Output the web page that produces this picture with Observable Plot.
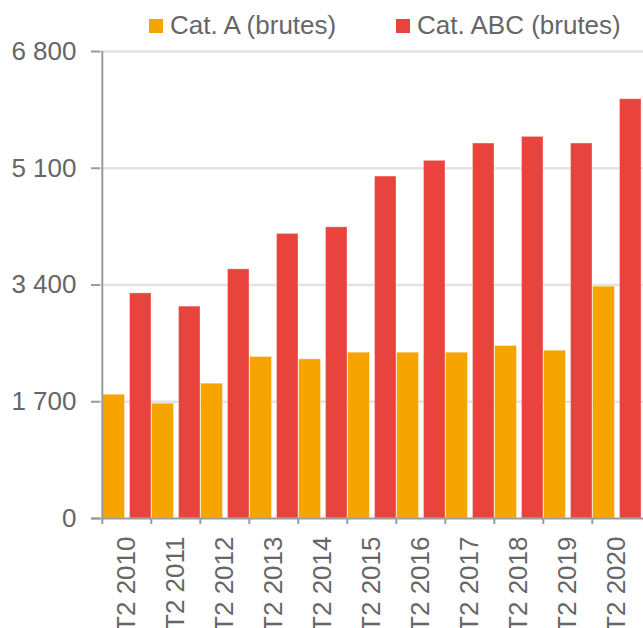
<!DOCTYPE html>
<html><head><meta charset="utf-8">
<script src="https://cdn.jsdelivr.net/npm/d3@7"></script>
<script src="https://cdn.jsdelivr.net/npm/@observablehq/plot@0.6"></script>
<style>
body{margin:0;background:#fff;font-family:"Liberation Sans",Arial,sans-serif;}
#wrap{position:relative;width:643px;height:628px;}
#legend{position:absolute;left:0;top:0;height:44px;width:643px;z-index:2;}
.sw{position:absolute;top:19px;width:14px;height:14px;}
.lb{position:absolute;top:12px;font-size:26px;line-height:26px;color:#666;white-space:nowrap;}
svg text{fill:#666;}
</style></head><body>
<div id="wrap">
<div id="legend"></div>
<div id="chart"></div>
</div>
<script>
const years = ["T2 2010","T2 2011","T2 2012","T2 2013","T2 2014","T2 2015","T2 2016","T2 2017","T2 2018","T2 2019","T2 2020"];
const catA = [1802, 1671, 1963, 2352, 2317, 2414, 2414, 2414, 2512, 2443, 3376];
const catABC = [3278, 3085, 3628, 4144, 4240, 4979, 5208, 5460, 5557, 5460, 6105];
const seriesNames = ["Cat. A (brutes)", "Cat. ABC (brutes)"];
const colors = ["#f6a500", "#e8433c"];
const yTicks = [0, 1700, 3400, 5100, 6800];

// legend
const legendPos = [[149, 170], [396, 417]];
const legend = document.getElementById("legend");
seriesNames.forEach((name, i) => {
  const sw = document.createElement("div");
  sw.className = "sw"; sw.style.left = legendPos[i][0] + "px"; sw.style.background = colors[i];
  const lb = document.createElement("div");
  lb.className = "lb"; lb.style.left = legendPos[i][1] + "px"; lb.textContent = name;
  legend.appendChild(sw); legend.appendChild(lb);
});

const W = 643, H = 628, mL = 100, mR = 0, mT = 51, mB = 110;
const step = (W - mL - mR) / years.length;
const dataA = years.map((y, i) => ({year: y, v: catA[i]}));
const dataABC = years.map((y, i) => ({year: y, v: catABC[i]}));
const fmt = d => d3.format(",")(d).replace(/,/g, " ");
const axisGray = "#9b9b9b";

const chart = Plot.plot({
  width: W, height: H,
  marginLeft: mL, marginRight: mR, marginTop: mT, marginBottom: mB,
  style: {fontSize: "26px", fontFamily: "'Liberation Sans', Arial, sans-serif", color: "#666", background: "#fff"},
  x: {domain: years, padding: 0, axis: null},
  y: {domain: [0, 6800], axis: null},
  marks: [
    Plot.ruleY(yTicks.filter(d => d > 0), {stroke: "#e2e2e2", strokeWidth: 2.5}),
    Plot.barY(dataA, {x: "year", y: "v", fill: colors[0], insetLeft: 0.5, insetRight: 26.5, stroke: "#fff", strokeOpacity: 0.35, strokeWidth: 1}),
    Plot.barY(dataABC, {x: "year", y: "v", fill: colors[1], insetLeft: 27.5, insetRight: 0, stroke: "#fff", strokeOpacity: 0.35, strokeWidth: 1}),
    Plot.ruleX([years[0]], {x: d => d, y1: 0, y2: 6800, dx: -step / 2, stroke: axisGray, strokeWidth: 2}),
    Plot.ruleY([0], {stroke: axisGray, strokeWidth: 2, insetLeft: -9}),
    Plot.axisY(yTicks, {tickSize: 9, tickPadding: 15, tickFormat: fmt, stroke: axisGray, strokeWidth: 2, label: null}),
    Plot.axisX(years, {tickSize: 6, tickFormat: () => "", dx: -step / 2, stroke: axisGray, strokeWidth: 2, label: null}),
    Plot.axisX(years, {tickSize: 0, tickPadding: 18, tickRotate: -90, label: null})
  ]
});
document.getElementById("chart").appendChild(chart);
</script>
</body></html>
